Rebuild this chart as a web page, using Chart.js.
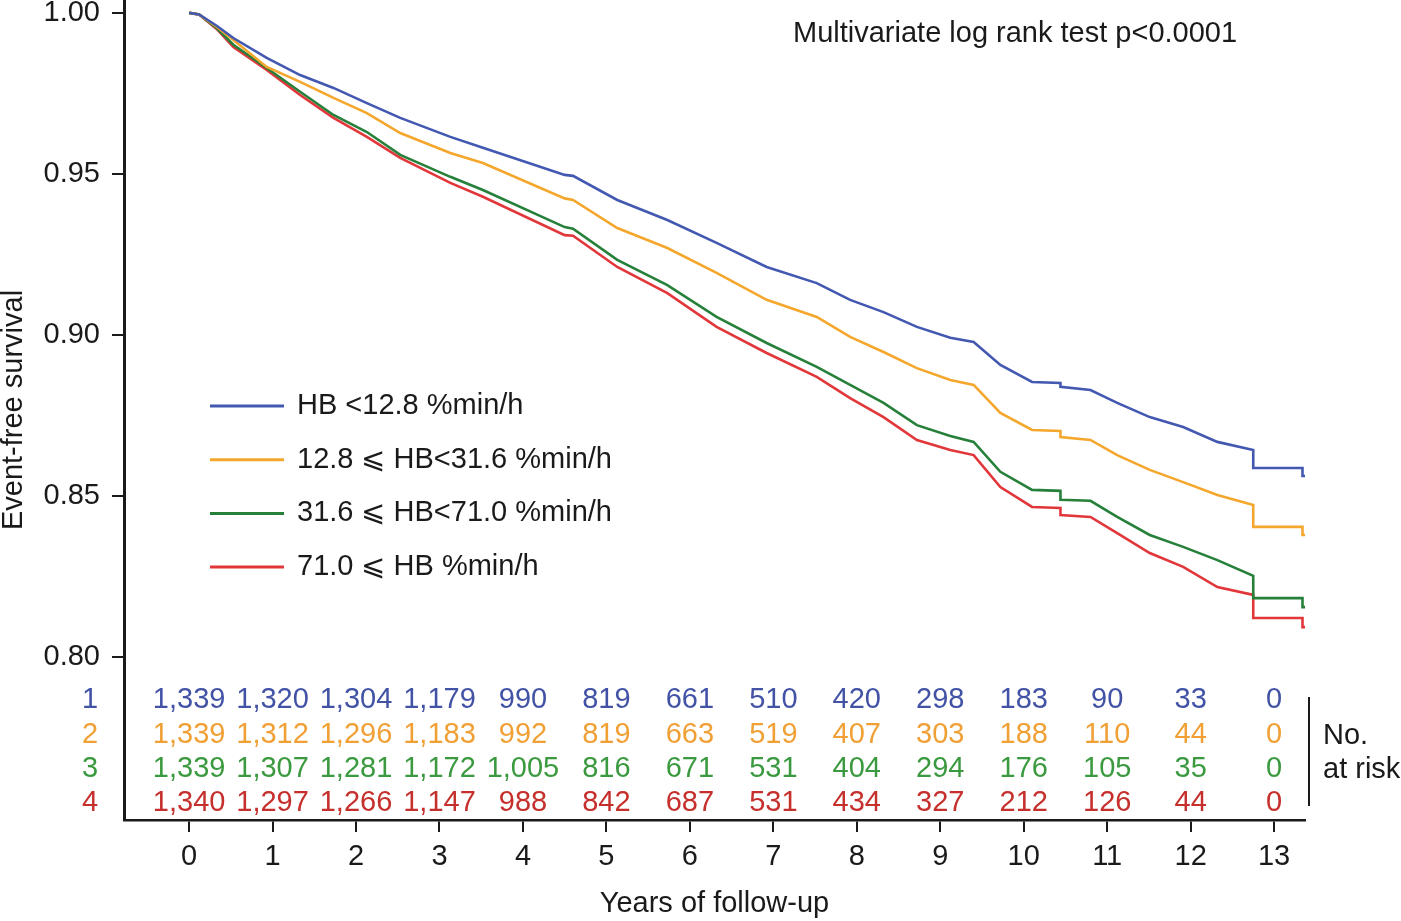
<!DOCTYPE html>
<html>
<head>
<meta charset="utf-8">
<title>Event-free survival by HB</title>
<script src="https://cdn.jsdelivr.net/npm/chart.js@4.4.1/dist/chart.umd.min.js"></script>
<style>
  html, body { margin: 0; padding: 0; background: #fff; }
  canvas { display: block; }
</style>
</head>
<body>
<canvas id="km" width="1401" height="921"></canvas>
<script>
// time points (years)
const years = [0, 0.12, 0.33, 0.53, 0.93, 1.33, 1.73, 2.13, 2.53, 3.13, 3.52, 4.5, 4.6, 5.13, 5.73, 6.32, 6.92, 7.52, 7.92, 8.32, 8.72, 9.12, 9.40, 9.72, 10.1, 10.44, 10.44, 10.8, 11.12, 11.51, 11.91, 12.32, 12.75, 12.75, 13.34, 13.34, 13.37];

const hbQ1 = [1.000, 0.9995, 0.9960, 0.9922, 0.9860, 0.9807, 0.9767, 0.9720, 0.9674, 0.9615, 0.9581, 0.9497, 0.9494, 0.9419, 0.9357, 0.9286, 0.9211, 0.9161, 0.9109, 0.9071, 0.9025, 0.8991, 0.8978, 0.8907, 0.8854, 0.8851, 0.8839, 0.8829, 0.8789, 0.8745, 0.8714, 0.8668, 0.8643, 0.8587, 0.8587, 0.8562, 0.8562];
const hbQ2 = [1.000, 0.9995, 0.9957, 0.9916, 0.9832, 0.9786, 0.9736, 0.9689, 0.9627, 0.9565, 0.9534, 0.9424, 0.9419, 0.9332, 0.9270, 0.9193, 0.9109, 0.9056, 0.8994, 0.8947, 0.8897, 0.8860, 0.8845, 0.8758, 0.8705, 0.8702, 0.8683, 0.8674, 0.8627, 0.8581, 0.8543, 0.8503, 0.8472, 0.8404, 0.8404, 0.8379, 0.8379];
const hbQ3 = [1.000, 0.9995, 0.9953, 0.9901, 0.9829, 0.9755, 0.9683, 0.9630, 0.9559, 0.9491, 0.9450, 0.9335, 0.9330, 0.9233, 0.9155, 0.9056, 0.8975, 0.8901, 0.8845, 0.8789, 0.8720, 0.8686, 0.8668, 0.8575, 0.8519, 0.8516, 0.8488, 0.8485, 0.8435, 0.8379, 0.8342, 0.8301, 0.8252, 0.8183, 0.8183, 0.8155, 0.8155];
const hbQ4 = [1.000, 0.9995, 0.9950, 0.9894, 0.9823, 0.9745, 0.9674, 0.9615, 0.9550, 0.9472, 0.9429, 0.9310, 0.9308, 0.9211, 0.9130, 0.9025, 0.8944, 0.8870, 0.8804, 0.8745, 0.8674, 0.8643, 0.8627, 0.8528, 0.8466, 0.8463, 0.8441, 0.8435, 0.8385, 0.8323, 0.8280, 0.8217, 0.8193, 0.8121, 0.8121, 0.8093, 0.8093];

const groupLabels = ['HB <12.8 %min/h', '12.8 \u2A7D HB<31.6 %min/h', '31.6 \u2A7D HB<71.0 %min/h', '71.0 \u2A7D HB %min/h'];
const lineColors = ['#4358b0', '#f4a72c', '#26803a', '#e2373a'];
const textColors = ['#4253a6', '#f0a035', '#3b9a3f', '#c52f2c'];

// numbers at risk, one per year 0..13
const riskYears = [0, 1, 2, 3, 4, 5, 6, 7, 8, 9, 10, 11, 12, 13];
const risk1 = [1339, 1320, 1304, 1179, 990, 819, 661, 510, 420, 298, 183, 90, 33, 0];
const risk2 = [1339, 1312, 1296, 1183, 992, 819, 663, 519, 407, 303, 188, 110, 44, 0];
const risk3 = [1339, 1307, 1281, 1172, 1005, 816, 671, 531, 404, 294, 176, 105, 35, 0];
const risk4 = [1340, 1297, 1266, 1147, 988, 842, 687, 531, 434, 327, 212, 126, 44, 0];

const xTicks = [0, 1, 2, 3, 4, 5, 6, 7, 8, 9, 10, 11, 12, 13];
const yTicks = [0.80, 0.85, 0.90, 0.95, 1.00];

const FONT = "'Liberation Sans', Arial, Helvetica, sans-serif";
const FS = 29;
Chart.defaults.font.family = FONT;
Chart.defaults.color = '#1a1a1a';

const series = [hbQ1, hbQ2, hbQ3, hbQ4];
const datasets = series.map((vals, i) => ({
  label: groupLabels[i],
  data: years.map((t, j) => ({ x: t, y: vals[j] })),
  borderColor: lineColors[i],
  borderWidth: 2.6,
  pointRadius: 0,
  tension: 0,
  fill: false
}));

// risk table, legend and annotation text
const extras = {
  id: 'extras',
  afterDraw(chart) {
    const ctx = chart.ctx;
    const xs = chart.scales.x;
    const area = chart.chartArea;
    ctx.save();
    ctx.font = FS + 'px ' + FONT;
    ctx.textBaseline = 'middle';

    // title
    ctx.fillStyle = '#1a1a1a';
    ctx.textAlign = 'left';
    ctx.fillText('Multivariate log rank test p<0.0001', 793, 34);

    // legend
    groupLabels.forEach((lab, i) => {
      const y = 406 + i * 53.7;
      ctx.strokeStyle = lineColors[i];
      ctx.lineWidth = 3;
      ctx.beginPath();
      ctx.moveTo(area.left + 86, y);
      ctx.lineTo(area.left + 160, y);
      ctx.stroke();
      ctx.fillStyle = '#1a1a1a';
      ctx.fillText(lab, area.left + 173, y);
    });

    // numbers at risk
    const rows = [risk1, risk2, risk3, risk4];
    const rowY = [700, 735, 769, 803];
    rows.forEach((row, r) => {
      ctx.fillStyle = textColors[r];
      ctx.textAlign = 'center';
      ctx.fillText(String(r + 1), 90, rowY[r]);
      row.forEach((n, k) => {
        ctx.fillText(n.toLocaleString('en-US'), xs.getPixelForValue(riskYears[k]), rowY[r]);
      });
    });

    ctx.strokeStyle = '#1a1a1a';
    ctx.lineWidth = 2;
    ctx.beginPath();
    ctx.moveTo(1309, 697);
    ctx.lineTo(1309, 806);
    ctx.stroke();
    ctx.fillStyle = '#1a1a1a';
    ctx.textAlign = 'left';
    ctx.fillText('No.', 1323, 736);
    ctx.fillText('at risk', 1323, 770);
    ctx.restore();
  }
};

new Chart(document.getElementById('km'), {
  type: 'line',
  data: { datasets: datasets },
  options: {
    responsive: false,
    animation: false,
    layout: { padding: { left: 0, right: 96, top: 0, bottom: 0 } },
    plugins: {
      legend: { display: false },
      tooltip: { enabled: false }
    },
    scales: {
      x: {
        type: 'linear',
        min: -0.78,
        max: 13.37,
        afterBuildTicks: s => { s.ticks = xTicks.map(v => ({ value: v })); },
        afterFit: s => { s.height = 101; s.paddingLeft = 0; s.paddingRight = 0; },
        ticks: { font: { size: FS }, color: '#1a1a1a', padding: 8, autoSkip: false, maxRotation: 0 },
        grid: { drawOnChartArea: false, drawTicks: true, tickLength: 12, lineWidth: 2, color: '#1a1a1a' },
        border: { display: true, color: '#1a1a1a', width: 2.5 },
        title: { display: true, text: 'Years of follow-up', font: { size: FS }, color: '#1a1a1a', padding: { top: 0, bottom: 0 } }
      },
      y: {
        type: 'linear',
        min: 0.7494,
        max: 1.004,
        afterBuildTicks: s => { s.ticks = yTicks.map(v => ({ value: v })); },
        afterFit: s => { s.width = 124; s.paddingTop = 0; s.paddingBottom = 0; },
        ticks: { font: { size: FS }, color: '#1a1a1a', padding: 12, callback: v => v.toFixed(2) },
        grid: { drawOnChartArea: false, drawTicks: true, tickLength: 12, lineWidth: 2, color: '#1a1a1a' },
        border: { display: true, color: '#1a1a1a', width: 3 },
        title: { display: true, text: 'Event-free survival', font: { size: FS }, color: '#1a1a1a', padding: { top: -3, bottom: 0 } }
      }
    }
  },
  plugins: [extras]
});
</script>
</body>
</html>
